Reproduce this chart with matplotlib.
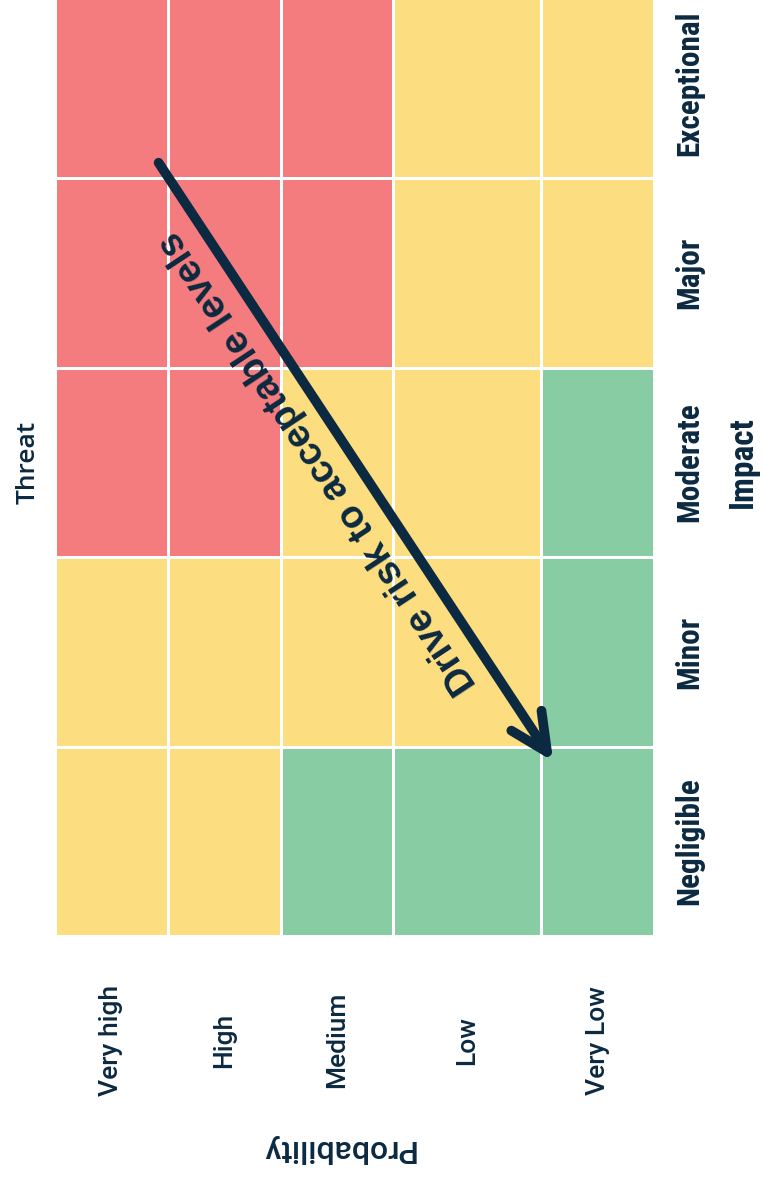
import matplotlib
matplotlib.use("Agg")
import matplotlib.pyplot as plt
import numpy as np
from matplotlib.colors import ListedColormap
from matplotlib.patches import FancyArrowPatch

# ---- data ----
impact_labels = ["Exceptional", "Major", "Moderate", "Minor", "Negligible"]
probability_labels = ["Very high", "High", "Medium", "Low", "Very Low"]
# risk level per cell: rows = impact (top->bottom), cols = probability (left->right)
# 0 = low (green), 1 = medium (yellow), 2 = high (red)
risk_exceptional = [2, 2, 2, 1, 1]
risk_major = [2, 2, 2, 1, 1]
risk_moderate = [2, 2, 1, 1, 0]
risk_minor = [1, 1, 1, 1, 0]
risk_negligible = [1, 1, 0, 0, 0]
arrow_text = "Drive risk to acceptable levels"

risk = np.array([risk_exceptional, risk_major, risk_moderate, risk_minor, risk_negligible])

GREEN, YELLOW, RED = "#88cca4", "#fcdd80", "#f47c7e"
NAVY = "#0b2940"
cmap = ListedColormap([GREEN, YELLOW, RED])

W, H = 765, 1180
fig = plt.figure(figsize=(W / 100, H / 100), dpi=100)

# grid axes (top row partly cropped by figure edge)
left_px, right_px, top_px, bottom_px = 55, 654, -11, 936
ax = fig.add_axes([left_px / W, 1 - bottom_px / H,
                   (right_px - left_px) / W, (bottom_px - top_px) / H])

col_w = [1, 1, 1, 1.31, 1]
x_edges = np.concatenate([[0], np.cumsum(col_w)])
y_edges = np.arange(len(impact_labels) + 1)
ax.pcolormesh(x_edges, y_edges, risk, cmap=cmap, vmin=0, vmax=2,
              edgecolor="white", linewidth=2.0)
ax.set_xlim(x_edges[0], x_edges[-1])
ax.set_ylim(y_edges[-1], y_edges[0])
ax.axis("off")

x_cent = (x_edges[:-1] + x_edges[1:]) / 2
y_cent = (y_edges[:-1] + y_edges[1:]) / 2

cond = ["Roboto Condensed", "DejaVu Sans"]
sans = ["Roboto", "Liberation Sans", "DejaVu Sans"]

# impact labels on the right
for yc, lab in zip(y_cent, impact_labels):
    ax.text(x_edges[-1] + 0.31, yc, lab, rotation=90, ha="center", va="center",
            fontsize=22.5, color=NAVY, family=cond, fontweight="bold",
            clip_on=False)
ax.text(x_edges[-1] + 0.79, 2.5, "Impact", rotation=90, ha="center", va="center",
        fontsize=24, color=NAVY, family=cond, fontweight="bold", clip_on=False)

# threat label on the left
ax.text(-0.24, 2.5, "Threat", rotation=90, ha="center", va="center",
        fontsize=19, color=NAVY, family=["Open Sans", "DejaVu Sans"],
        fontweight="semibold", clip_on=False)

# probability labels below
for xc, lab in zip(x_cent, probability_labels):
    ax.text(xc, 5.55, lab, rotation=90, ha="center", va="center",
            fontsize=19, color=NAVY, family=sans, fontweight="medium", clip_on=False)
ax.text(2.5, 6.12, "Probability", rotation=180, ha="center", va="center",
        fontsize=23, color=NAVY, family=sans, fontweight="medium", clip_on=False)

# arrow
arr = FancyArrowPatch((0.905, 0.905), (4.43, 4.09),
                      arrowstyle="->,head_length=27,head_width=13",
                      mutation_scale=1, lw=7, color=NAVY,
                      capstyle="round", joinstyle="round")
ax.add_patch(arr)

# arrow text
ax.text(2.33, 2.50, arrow_text, rotation=123.5, rotation_mode="anchor",
        ha="center", va="center", fontsize=27.5, fontweight="bold",
        color=NAVY, family=["Liberation Sans", "Arimo"], clip_on=False)

fig.savefig("out.png", dpi=100, facecolor="white")
